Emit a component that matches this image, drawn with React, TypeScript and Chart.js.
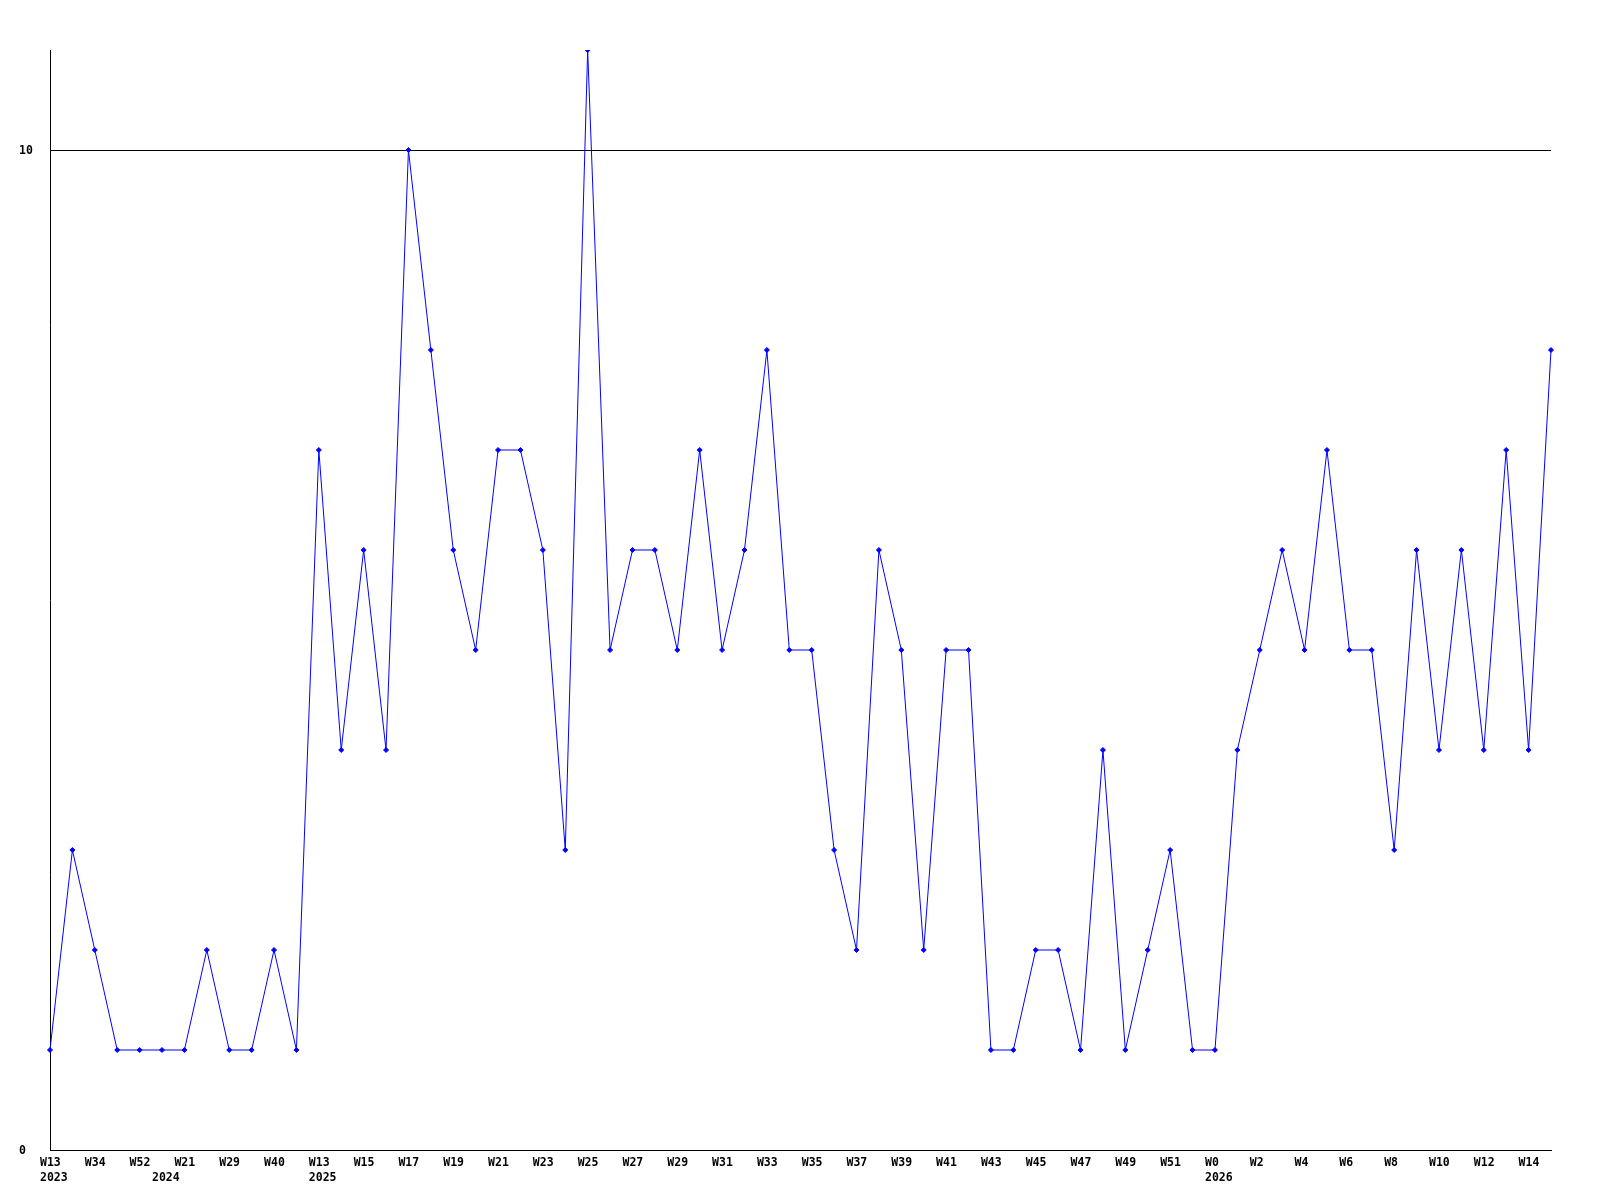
import React, { useEffect, useRef } from "react";
import { Chart, registerables } from "chart.js";

Chart.register(...registerables);

const weekLabels: string[] = [
  "W13", "W24", "W34", "W44", "W52", "W4", "W21", "W25", "W29", "W35", "W40", "W48",
  "W13", "W14", "W15", "W16", "W17", "W18", "W19", "W20", "W21", "W22", "W23", "W24",
  "W25", "W26", "W27", "W28", "W29", "W30", "W31", "W32", "W33", "W34", "W35", "W36",
  "W37", "W38", "W39", "W40", "W41", "W42", "W43", "W44", "W45", "W46", "W47", "W48",
  "W49", "W50", "W51", "W52",
  "W0", "W1", "W2", "W3", "W4", "W5", "W6", "W7", "W8", "W9", "W10", "W11", "W12", "W13", "W14", "W15",
];

const yearLabels: string[] = [
  ...Array(5).fill("2023"),
  ...Array(7).fill("2024"),
  ...Array(40).fill("2025"),
  ...Array(16).fill("2026"),
];

const values: number[] = [
  1, 3, 2, 1, 1, 1, 1, 2, 1, 1, 2, 1,
  7, 4, 6, 4, 10, 8, 6, 5, 7, 7, 6, 3,
  11, 5, 6, 6, 5, 7, 5, 6, 8, 5, 5, 3,
  2, 6, 5, 2, 5, 5, 1, 1, 2, 2, 1, 4,
  1, 2, 3, 1,
  1, 4, 5, 6, 5, 7, 5, 5, 3, 6, 4, 6, 4, 7, 4, 8,
];

const yTicks: number[] = [0, 10];

const FONT = { family: "'DejaVu Sans Mono', monospace", size: 11.5, weight: "bold" as const, lineHeight: "15px" };

export default function App() {
  const ref = useRef<HTMLCanvasElement | null>(null);

  useEffect(() => {
    if (!ref.current) return;
    const chart = new Chart(ref.current, {
      type: "line",
      data: {
        labels: weekLabels,
        datasets: [
          {
            data: values,
            borderColor: "#0000ff",
            backgroundColor: "#0000ff",
            borderWidth: 1,
            tension: 0,
            fill: false,
            pointStyle: "rectRot",
            pointRadius: 2.5,
            pointBorderWidth: 1,
            pointBorderColor: "#0000ff",
            pointBackgroundColor: "#0000ff",
          },
        ],
      },
      options: {
        animation: false,
        responsive: false,
        maintainAspectRatio: false,
        layout: { padding: { left: 19, right: 49, top: 50, bottom: 0 } },
        plugins: { legend: { display: false }, tooltip: { enabled: false }, title: { display: false } },
        scales: {
          x: {
            type: "category",
            offset: false,
            grid: { display: false, drawTicks: false },
            border: { display: true, color: "#000000", width: 1 },
            afterFit: (scale: any) => {
              scale.height = 50;
            },
            ticks: {
              autoSkip: false,
              maxRotation: 0,
              minRotation: 0,
              align: "start",
              labelOffset: -10,
              padding: 6,
              color: "#000000",
              font: FONT,
              callback: (_v: any, i: number) => {
                const yr = i === 0 || yearLabels[i] !== yearLabels[i - 1] ? yearLabels[i] : "";
                if (i % 2 === 0) return yr ? [weekLabels[i], yr] : weekLabels[i];
                return yr ? ["", yr] : "";
              },
            },
          },
          y: {
            min: 0,
            max: 11,
            grid: { display: true, color: "#000000", lineWidth: 1, drawTicks: false },
            border: { display: true, color: "#000000", width: 1 },
            afterFit: (scale: any) => {
              scale.width = 31;
            },
            afterBuildTicks: (scale: any) => {
              scale.ticks = yTicks.map((v) => ({ value: v }));
            },
            ticks: {
              crossAlign: "far",
              padding: 0,
              labelOffset: 1.5,
              color: "#000000",
              font: FONT,
              callback: (v: any) => String(v),
            },
          },
        },
      },
    });
    return () => chart.destroy();
  }, []);

  return (
    <div style={{ position: "absolute", left: 0, top: 0, width: 1600, height: 1200, background: "#ffffff" }}>
      <canvas ref={ref} width={1600} height={1200} style={{ width: 1600, height: 1200, display: "block" }} />
    </div>
  );
}
